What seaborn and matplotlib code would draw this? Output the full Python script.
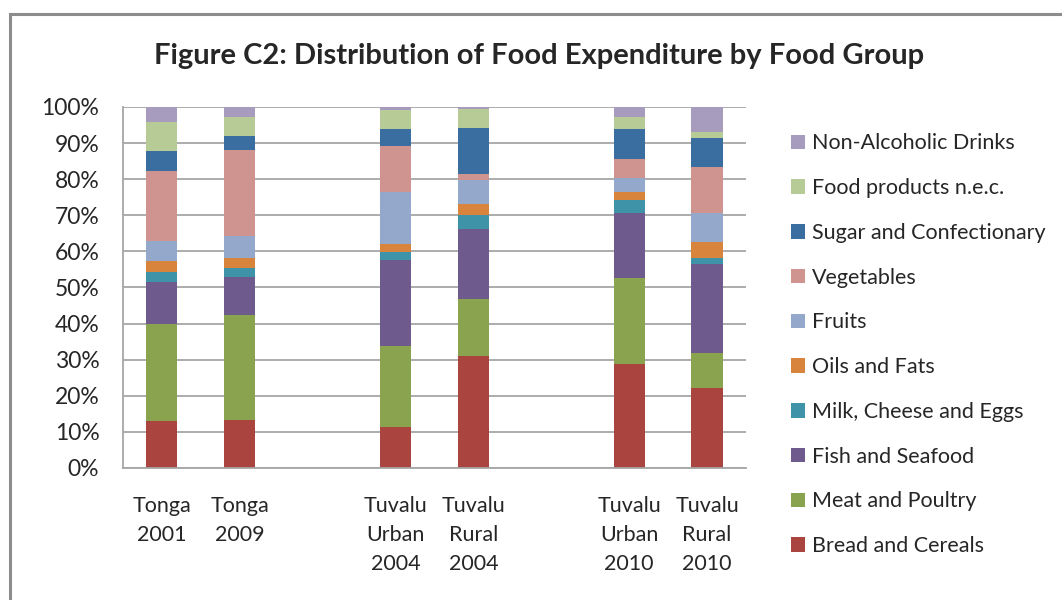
import pandas as pd
import matplotlib.pyplot as plt
import seaborn as sns
from matplotlib.patches import Rectangle, Patch

# survey columns (blank slots give the gaps between the surveys)
surveys = ["Tonga 2001", "Tonga 2009", "Tuvalu Urban 2004", "Tuvalu Rural 2004",
           "Tuvalu Urban 2010", "Tuvalu Rural 2010"]
slot_order = ["Tonga 2001", "Tonga 2009", " ", "Tuvalu Urban 2004", "Tuvalu Rural 2004",
              "  ", "Tuvalu Urban 2010", "Tuvalu Rural 2010"]
slot_labels = ["Tonga\n2001", "Tonga\n2009", "", "Tuvalu\nUrban\n2004", "Tuvalu\nRural\n2004",
               "", "Tuvalu\nUrban\n2010", "Tuvalu\nRural\n2010"]

# food groups, bottom of the stack first
groups = ["Bread and Cereals", "Meat and Poultry", "Fish and Seafood", "Milk, Cheese and Eggs",
          "Oils and Fats", "Fruits", "Vegetables", "Sugar and Confectionary",
          "Food products n.e.c.", "Non-Alcoholic Drinks"]

bread = [12.9, 13.2, 11.4, 30.9, 28.7, 22.1]
meat = [26.9, 29.1, 22.4, 16.0, 23.8, 9.8]
fish = [11.7, 10.6, 23.7, 19.2, 18.1, 24.5]
milk = [2.9, 2.5, 2.2, 4.0, 3.5, 1.9]
oils = [2.9, 2.9, 2.4, 3.0, 2.3, 4.2]
fruits = [5.6, 5.9, 14.3, 6.6, 3.8, 8.1]
vegetables = [19.4, 23.8, 12.7, 1.6, 5.4, 12.9]
sugar = [5.5, 4.0, 4.7, 12.8, 8.2, 7.8]
food_nec = [8.1, 5.3, 5.3, 5.3, 3.4, 1.7]
drinks = [4.1, 2.7, 0.9, 0.6, 2.8, 7.0]

colors = ["#A9443F", "#89A34E", "#6F5A8E", "#3E93A8", "#D9843C",
          "#93A8CB", "#CF9390", "#3A6EA1", "#B7CB96", "#A79BBE"]

df = pd.DataFrame([bread, meat, fish, milk, oils, fruits, vegetables, sugar, food_nec, drinks],
                  index=groups, columns=surveys).T
# normalise to 100% and stack
df = df.div(df.sum(axis=1), axis=0) * 100
cum = df.cumsum(axis=1).reset_index().rename(columns={"index": "Survey"})

sns.set_style("white")
plt.rcParams['font.family'] = ['Lato', 'DejaVu Sans']

fig = plt.figure(figsize=(10.62, 6), dpi=100)
ax = fig.add_axes([0.1158, 0.22, 0.5866, 0.6017])

# draw from the top of the stack down so each layer covers the one above
for g, c in reversed(list(zip(groups, colors))):
    sns.barplot(data=cum, x="Survey", y=g, order=slot_order, color=c,
                width=0.4, saturation=1, linewidth=0, ax=ax)

ax.set_ylim(0, 100)
ax.set_xlim(-0.5, 7.5)
ax.set_yticks(range(0, 101, 10))
ax.set_yticklabels([f"{v}%" for v in range(0, 101, 10)], fontsize=16.5)
ax.yaxis.grid(True, color="#A6A6A6", linewidth=1.3)
ax.set_axisbelow(True)

ax.set_xticks(range(8))
ax.set_xticklabels(slot_labels, fontsize=15.5, linespacing=1.56, va="top")
ax.set_xticks([i - 0.5 for i in range(9)], minor=True)
ax.tick_params(axis="x", which="major", length=0, pad=20)
ax.tick_params(axis="x", which="minor", length=5, color="#A6A6A6", width=1.2, direction="out")
ax.tick_params(axis="y", length=7, color="#A6A6A6", width=1.2, direction="out", pad=10)
ax.set_xlabel("")
ax.set_ylabel("")

for s in ["top", "right"]:
    ax.spines[s].set_visible(False)
for s in ["left", "bottom"]:
    ax.spines[s].set_color("#A6A6A6")
    ax.spines[s].set_linewidth(1.3)

fig.text(0.508, 0.907, "Figure C2: Distribution of Food Expenditure by Food Group",
         ha="center", va="center", fontsize=21, fontweight="bold")

handles = [Patch(facecolor=c, edgecolor="none") for c in colors]
leg = fig.legend(handles[::-1], groups[::-1], loc="upper left", bbox_to_anchor=(0.727, 0.81),
                 frameon=False, fontsize=15.5, labelspacing=1.15, handlelength=0.65,
                 handleheight=0.65, handletextpad=0.3)

# outer chart border
fig.patches.append(Rectangle((10 / 1062, -0.05), 1.1, (600 - 14) / 600 + 0.05,
                             transform=fig.transFigure, fill=False,
                             edgecolor="#8C8C8C", linewidth=2.2))

plt.savefig("out.png", dpi=100)
